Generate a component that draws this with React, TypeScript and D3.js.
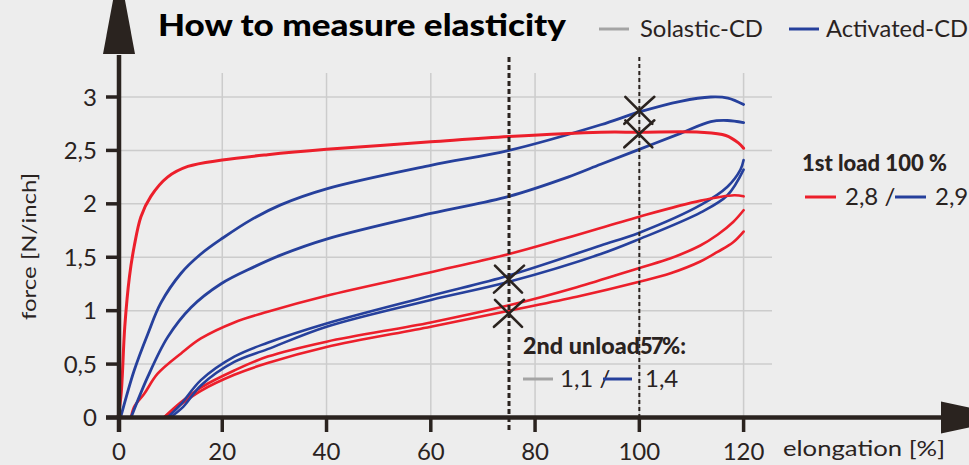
import React from "react";
import * as d3 from "d3";

// ---------- data ----------
const xTicks = [0, 20, 40, 60, 80, 100, 120];
const xTickLabels = ["0", "20", "40", "60", "80", "100", "120"];
const yTicks = [0, 0.5, 1, 1.5, 2, 2.5, 3];
const yTickLabels = ["0", "0,5", "1", "1,5", "2", "2,5", "3"];

// Solastic-CD (red)
const solasticLoad1: [number, number][] = [
  [0, 0], [0.6, 0.22], [1.3, 0.85], [2.2, 1.32], [3.1, 1.6], [4.4, 1.88], [6.3, 2.07],
  [9.5, 2.25], [13.4, 2.35], [20, 2.41], [28.7, 2.46], [40, 2.51], [60, 2.58], [75, 2.63],
  [92.6, 2.67], [100, 2.67], [111.7, 2.67], [116.6, 2.64], [119, 2.57], [120, 2.52],
];
const solasticCurve2: [number, number][] = [
  [2.5, 0], [3.1, 0.1], [5, 0.22], [7.6, 0.41], [12.1, 0.6], [15.9, 0.74], [22.3, 0.89],
  [28.7, 0.99], [40, 1.14], [60, 1.36], [75, 1.53], [86, 1.68], [100, 1.88],
  [111.8, 2.03], [118.2, 2.08], [120, 2.07],
];
const solasticCurve3: [number, number][] = [
  [8.8, 0], [12, 0.14], [15.9, 0.28], [22.3, 0.44], [28.7, 0.57], [40, 0.71], [60, 0.89],
  [75, 1.05], [88, 1.22], [100, 1.4], [106, 1.49], [111.7, 1.61], [115, 1.71], [118, 1.83], [120, 1.94],
];
const solasticCurve4: [number, number][] = [
  [8.8, 0], [12, 0.12], [15.9, 0.25], [22.3, 0.4], [28.7, 0.51], [40, 0.66], [60, 0.85],
  [75, 1.0], [88, 1.13], [100, 1.27], [106, 1.35], [111.7, 1.46], [115, 1.55], [118, 1.64], [120, 1.74],
];

// Activated-CD (blue)
const activatedLoad1: [number, number][] = [
  [0.5, 0], [3.1, 0.44], [5.7, 0.78], [8.2, 1.07], [12.1, 1.35], [15.9, 1.53], [20.1, 1.68],
  [25.5, 1.85], [31.2, 1.99], [40, 2.14], [60, 2.36], [75, 2.5], [92.6, 2.74], [100, 2.86],
  [107.9, 2.96], [113.7, 3.0], [117, 2.99], [120, 2.93],
];
const activatedCurve2: [number, number][] = [
  [2.5, 0], [5.7, 0.38], [9.5, 0.75], [14, 1.03], [19.7, 1.25], [26.1, 1.41], [31.2, 1.52],
  [40, 1.67], [60, 1.91], [75, 2.07], [86.3, 2.25], [92.6, 2.37], [100, 2.51], [107.9, 2.66],
  [113.7, 2.77], [116.9, 2.78], [120, 2.76],
];
const activatedCurve3: [number, number][] = [
  [9.5, 0], [12, 0.12], [15.9, 0.35], [22.3, 0.57], [28.7, 0.7], [40, 0.88], [60, 1.14],
  [75, 1.33], [92.6, 1.61], [100, 1.73], [111.8, 1.99], [116.9, 2.16], [119.4, 2.32], [120, 2.41],
];
const activatedCurve4: [number, number][] = [
  [10, 0], [12.5, 0.1], [15.9, 0.3], [22.3, 0.52], [28.7, 0.64], [40, 0.85], [60, 1.1],
  [75, 1.27], [92.6, 1.53], [100, 1.67], [111.8, 1.92], [116.9, 2.08], [120, 2.32],
];

const markerPoints: [number, number][] = [
  [75, 1.3], [75, 0.98], [100, 2.88], [100, 2.66],
];
const guideLines = [75, 100];

// ---------- styles ----------
const RED = "#ec1f2b";
const BLUE = "#26409c";
const GRAY = "#a4a4a4";
const INK = "#2a231f";
const GRID = "#cccccc";
const FONT = "Lato, 'Open Sans', sans-serif";

const W = 969;
const H = 465;

export default function App() {
  const x = d3.scaleLinear().domain([0, 120]).range([118, 743.6]);
  const y = d3.scaleLinear().domain([0, 3]).range([417.5, 97]);
  const line = d3
    .line<[number, number]>()
    .x((d) => x(d[0]))
    .y((d) => y(d[1]))
    .curve(d3.curveCatmullRom.alpha(0.5));

  const curves: { data: [number, number][]; color: string; w: number }[] = [
    { data: solasticCurve4, color: RED, w: 2.6 },
    { data: solasticCurve3, color: RED, w: 2.6 },
    { data: activatedCurve4, color: BLUE, w: 2.6 },
    { data: activatedCurve3, color: BLUE, w: 2.6 },
    { data: solasticCurve2, color: RED, w: 2.6 },
    { data: activatedCurve2, color: BLUE, w: 2.8 },
    { data: activatedLoad1, color: BLUE, w: 2.8 },
    { data: solasticLoad1, color: RED, w: 3.0 },
  ];

  const axisX0 = x(0) + 1;
  const axisY0 = y(0);

  return (
    <svg
      width={W}
      height={H}
      style={{ position: "absolute", left: 0, top: 0, background: "#ededed" }}
      fontFamily={FONT}
    >
      <rect x={0} y={0} width={W} height={H} fill="#ededed" />

      {/* grid */}
      {xTicks.slice(1).map((t) => (
        <line key={"gx" + t} x1={x(t)} x2={x(t)} y1={73} y2={axisY0} stroke={GRID} strokeWidth={1.5} />
      ))}
      {yTicks.slice(1).map((t) => (
        <line key={"gy" + t} x1={axisX0} x2={772} y1={y(t)} y2={y(t)} stroke={GRID} strokeWidth={1.5} />
      ))}

      {/* curves */}
      {curves.map((c, i) => (
        <path
          key={"c" + i}
          d={line(c.data) || ""}
          fill="none"
          stroke={c.color}
          strokeWidth={c.w}
          strokeLinecap="round"
          strokeLinejoin="round"
        />
      ))}

      {/* guide lines */}
      {guideLines.map((g, i) => (
        <line
          key={"g" + g}
          x1={x(g)}
          x2={x(g)}
          y1={57}
          y2={430}
          stroke={INK}
          strokeWidth={i === 0 ? 3 : 2}
          strokeDasharray={i === 0 ? "5 3" : "4 3"}
        />
      ))}

      {/* markers */}
      {markerPoints.map((p, i) => {
        const cx = x(p[0]);
        const cy = y(p[1]);
        return (
          <g key={"m" + i} stroke={INK} strokeWidth={2.6} strokeLinecap="round">
            <line x1={cx - 14} y1={cy - 13} x2={cx + 13} y2={cy + 14} />
            <line x1={cx + 15} y1={cy - 13} x2={cx - 15} y2={cy + 14} />
          </g>
        );
      })}

      {/* axes */}
      <line x1={106} x2={942} y1={axisY0} y2={axisY0} stroke={INK} strokeWidth={4.5} />
      <path d={`M941,401.5 L1016,${axisY0} L941,433.5 Z`} fill={INK} />
      <line x1={axisX0} x2={axisX0} y1={432} y2={55} stroke={INK} strokeWidth={4.5} />
      <path d={`M${axisX0 - 16},54 L${axisX0},-32 L${axisX0 + 16},54 Z`} fill={INK} />

      {xTicks.map((t, i) => (
        <g key={"xt" + t}>
          <line x1={x(t) + (i === 0 ? 1 : 0)} x2={x(t) + (i === 0 ? 1 : 0)} y1={axisY0} y2={432} stroke={INK} strokeWidth={3.5} />
          <text x={x(t) + (i === 0 ? 1 : 0)} y={460} textAnchor="middle" fontSize={24} fill={INK}>
            {xTickLabels[i]}
          </text>
        </g>
      ))}
      {yTicks.map((t, i) => (
        <g key={"yt" + t}>
          <line x1={106} x2={axisX0} y1={y(t)} y2={y(t)} stroke={INK} strokeWidth={3.5} />
          <text x={97} y={y(t) + 8.5} textAnchor="end" fontSize={24} fill={INK}>
            {yTickLabels[i]}
          </text>
        </g>
      ))}

      {/* axis titles */}
      <text x={783} y={456} fontSize={22} fill={INK} textLength={162} lengthAdjust="spacingAndGlyphs">
        elongation [%]
      </text>
      <text
        transform="translate(36,246.5) rotate(-90)"
        textAnchor="middle"
        fontSize={20}
        fill={INK}
        textLength={147}
        lengthAdjust="spacingAndGlyphs"
      >
        force [N/inch]
      </text>

      {/* title + legend */}
      <text x={158} y={36} fontSize={31} fontWeight={900} fill="#000" textLength={408} lengthAdjust="spacingAndGlyphs">
        How to measure elasticity
      </text>
      <line x1={599} x2={629} y1={29} y2={29} stroke={GRAY} strokeWidth={3} />
      <text x={640} y={37} fontSize={23} fill={INK} textLength={123} lengthAdjust="spacingAndGlyphs">
        Solastic-CD
      </text>
      <line x1={789} x2={819} y1={29} y2={29} stroke={BLUE} strokeWidth={3} />
      <text x={826} y={37} fontSize={23} fill={INK} textLength={142} lengthAdjust="spacingAndGlyphs">
        Activated-CD
      </text>

      {/* 1st load annotation */}
      <text x={802} y={171} fontSize={22} fontWeight={900} fill={INK}>
        1st load 100 %
      </text>
      <line x1={805} x2={836} y1={197} y2={197} stroke={RED} strokeWidth={3} />
      <text x={845} y={205} fontSize={24} fill={INK}>
        2,8 /
      </text>
      <line x1={895} x2={926} y1={197} y2={197} stroke={BLUE} strokeWidth={3} />
      <text x={935} y={205} fontSize={24} fill={INK}>
        2,9
      </text>

      {/* 2nd unload annotation */}
      <text x={523} y={354} fontSize={22} fontWeight={900} fill={INK} textLength={117} lengthAdjust="spacingAndGlyphs">
        2nd unload
      </text>
      <text x={640} y={354} fontSize={22} fontWeight={900} fill={INK}>5</text>
      <text x={651} y={354} fontSize={22} fontWeight={900} fill={INK}>7</text>
      <text x={662} y={354} fontSize={22} fontWeight={900} fill={INK}>%:</text>
      <line x1={523} x2={553} y1={379} y2={379} stroke={GRAY} strokeWidth={3} />
      <text x={560} y={387} fontSize={24} fill={INK}>
        1,1 /
      </text>
      <line x1={603} x2={632} y1={379} y2={379} stroke={BLUE} strokeWidth={3} />
      <text x={645} y={387} fontSize={24} fill={INK}>
        1,4
      </text>
    </svg>
  );
}
